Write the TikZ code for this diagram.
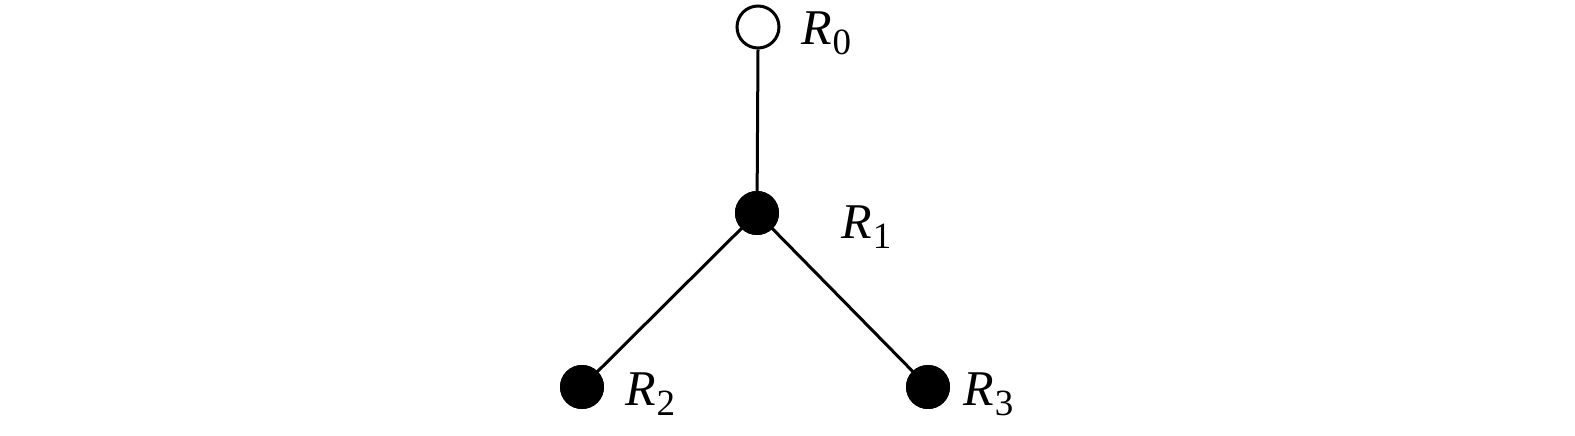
\documentclass[tikz,border=0pt]{standalone}
\usepackage{fontspec}
\setmainfont{Liberation Serif}
\newcommand{\lbl}[1]{{\fontsize{50}{56}\selectfont\itshape R}\kern1pt\raisebox{-10pt}{\fontsize{37}{40}\selectfont #1}}
\begin{document}
\begin{tikzpicture}[x=1pt,y=-1pt,
  edge/.style={line width=3pt},
  opendot/.style={circle,draw,line width=3pt,fill=white,minimum size=42pt,inner sep=0pt},
  fulldot/.style={circle,fill=black,minimum size=44pt,inner sep=0pt},
  lab/.style={anchor=base west,inner sep=0pt}]
\useasboundingbox (0,0) rectangle (1575,436);
\node[opendot] (r0) at (758,27) {};
\node[fulldot] (r1) at (757,213) {};
\node[fulldot] (r2) at (582,387) {};
\node[fulldot] (r3) at (928,387) {};
\draw[edge] (r0.south) -- (r1.center);
\draw[edge] (r1.center) -- (r2.center);
\draw[edge] (r1.center) -- (r3.center);
\node[fulldot] at (r1) {};
\node[fulldot] at (r2) {};
\node[fulldot] at (r3) {};
\node[lab] (l0) at (801,45) {\lbl{0}};
\node[lab] (l1) at (841,238) {\lbl{1}};
\node[lab] (l2) at (625,405) {\lbl{2}};
\node[lab] (l3) at (963,405) {\lbl{3}};
\end{tikzpicture}
\end{document}
